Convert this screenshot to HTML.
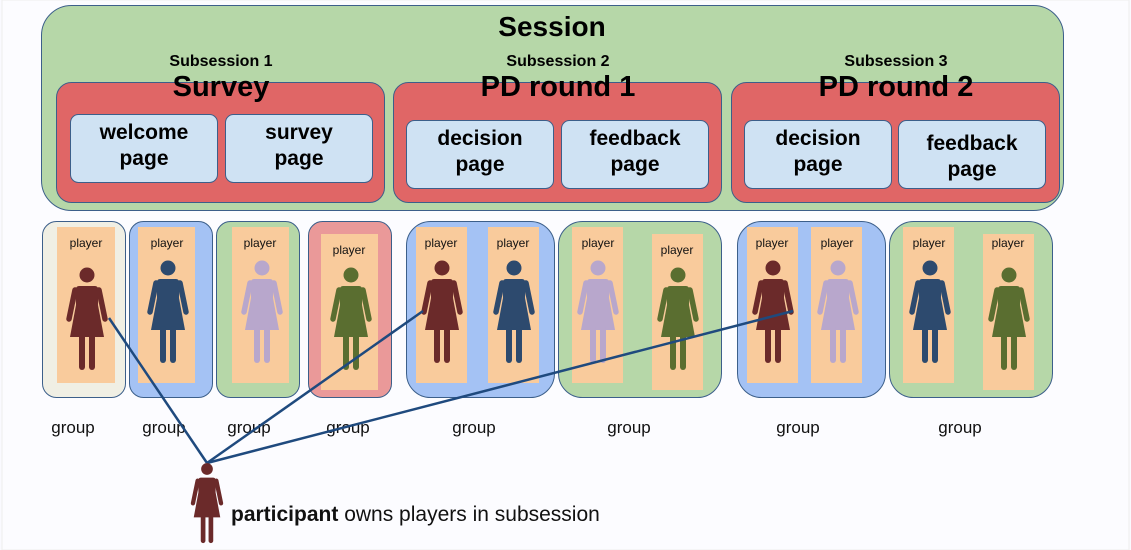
<!DOCTYPE html>
<html><head><meta charset="utf-8"><style>
html,body{margin:0;padding:0;background:#fafaff;}
svg{display:block;font-family:"Liberation Sans",sans-serif;}
</style></head><body>
<svg width="1131" height="550" viewBox="0 0 1131 550">
<defs>
<g id="w">
<circle cx="0" cy="0" r="7.5"/>
<path d="M-8,11 L8,11 Q11,11 11.5,15 L11,30 L17,62 L-17,62 L-11,30 L-11.5,15 Q-11,11 -8,11 Z"/>
<path d="M-12,15 L-18,44 M12,15 L18,44" stroke-width="5.5" stroke-linecap="round" fill="none"/>
<rect x="-8" y="58" width="6" height="37" rx="3"/>
<rect x="2" y="58" width="6" height="37" rx="3"/>
</g>
</defs>
<rect x="0" y="0" width="1131" height="550" fill="#fafaff"/>
<rect x="2" y="0" width="1127" height="550" fill="#fcfcff" stroke="#eee" stroke-width="1"/>
<rect x="41.5" y="5.5" width="1022" height="205" rx="30" fill="#b6d7a8" stroke="#3c5f8a"/>
<text x="552" y="36" font-size="28" font-weight="bold" text-anchor="middle">Session</text>
<g fill="#e06666" stroke="#3c5f8a">
<rect x="56.5" y="82.5" width="328" height="120" rx="15"/>
<rect x="393.5" y="82.5" width="328" height="120" rx="15"/>
<rect x="731.5" y="82.5" width="328" height="120" rx="15"/>
</g>
<g font-size="16" font-weight="bold" text-anchor="middle">
<text x="221" y="66">Subsession 1</text>
<text x="558" y="66">Subsession 2</text>
<text x="896" y="66">Subsession 3</text>
</g>
<g font-size="29" font-weight="bold" text-anchor="middle">
<text x="221" y="96">Survey</text>
<text x="558" y="96">PD round 1</text>
<text x="896" y="96">PD round 2</text>
</g>
<g fill="#cfe2f3" stroke="#3c5f8a">
<rect x="70.5" y="114.5" width="147" height="68" rx="8"/>
<rect x="225.5" y="114.5" width="147" height="68" rx="8"/>
<rect x="406.5" y="120.5" width="147" height="68" rx="8"/>
<rect x="561.5" y="120.5" width="147" height="68" rx="8"/>
<rect x="744.5" y="120.5" width="147" height="68" rx="8"/>
<rect x="898.5" y="120.5" width="147" height="68" rx="8"/>
</g>
<g font-size="21" font-weight="bold" text-anchor="middle">
<text x="144" y="139">welcome</text><text x="144" y="165">page</text>
<text x="299" y="139">survey</text><text x="299" y="165">page</text>
<text x="480" y="145">decision</text><text x="480" y="171">page</text>
<text x="635" y="145">feedback</text><text x="635" y="171">page</text>
<text x="818" y="145">decision</text><text x="818" y="171">page</text>
<text x="972" y="150">feedback</text><text x="972" y="176">page</text>
</g>
<g stroke="#3c5f8a">
<rect x="42.5" y="221.5" width="83" height="176" rx="14" fill="#f0efe4"/>
<rect x="129.5" y="221.5" width="83" height="176" rx="14" fill="#a4c2f4"/>
<rect x="216.5" y="221.5" width="83" height="176" rx="14" fill="#b6d7a8"/>
<rect x="308.5" y="221.5" width="83" height="176" rx="14" fill="#ea9999"/>
<rect x="406.5" y="221.5" width="148" height="176" rx="24" fill="#a4c2f4"/>
<rect x="558.5" y="221.5" width="163" height="176" rx="24" fill="#b6d7a8"/>
<rect x="737.5" y="221.5" width="148" height="176" rx="24" fill="#a4c2f4"/>
<rect x="889.5" y="221.5" width="163" height="176" rx="24" fill="#b6d7a8"/>
</g>
<g fill="#f9cb9c">
<rect x="57" y="227" width="58" height="156"/>
<rect x="138" y="227" width="57" height="156"/>
<rect x="232" y="227" width="57" height="156"/>
<rect x="321" y="234" width="57" height="156"/>
<rect x="416" y="227" width="51" height="156"/>
<rect x="488" y="227" width="51" height="156"/>
<rect x="572" y="227" width="51" height="156"/>
<rect x="652" y="234" width="51" height="156"/>
<rect x="747" y="227" width="51" height="156"/>
<rect x="811" y="227" width="51" height="156"/>
<rect x="903" y="227" width="51" height="156"/>
<rect x="983" y="234" width="51" height="156"/>
</g>
<g font-size="12" text-anchor="middle" fill="#111">
<text x="86" y="247">player</text>
<text x="167" y="247">player</text>
<text x="260" y="247">player</text>
<text x="349" y="254">player</text>
<text x="441" y="247">player</text>
<text x="513" y="247">player</text>
<text x="598" y="247">player</text>
<text x="677" y="254">player</text>
<text x="772" y="247">player</text>
<text x="837" y="247">player</text>
<text x="929" y="247">player</text>
<text x="1008" y="247">player</text>
</g>
<use href="#w" x="87" y="275" fill="#6b2a2a" stroke="#6b2a2a" stroke-width="0"/>
<use href="#w" x="168" y="268" fill="#2d4a6e" stroke="#2d4a6e" stroke-width="0"/>
<use href="#w" x="262" y="268" fill="#b8a7cc" stroke="#b8a7cc" stroke-width="0"/>
<use href="#w" x="351" y="275" fill="#5a6e30" stroke="#5a6e30" stroke-width="0"/>
<use href="#w" x="442" y="268" fill="#6b2a2a" stroke="#6b2a2a" stroke-width="0"/>
<use href="#w" x="514" y="268" fill="#2d4a6e" stroke="#2d4a6e" stroke-width="0"/>
<use href="#w" x="598" y="268" fill="#b8a7cc" stroke="#b8a7cc" stroke-width="0"/>
<use href="#w" x="678" y="275" fill="#5a6e30" stroke="#5a6e30" stroke-width="0"/>
<use href="#w" x="773" y="268" fill="#6b2a2a" stroke="#6b2a2a" stroke-width="0"/>
<use href="#w" x="838" y="268" fill="#b8a7cc" stroke="#b8a7cc" stroke-width="0"/>
<use href="#w" x="930" y="268" fill="#2d4a6e" stroke="#2d4a6e" stroke-width="0"/>
<use href="#w" x="1009" y="275" fill="#5a6e30" stroke="#5a6e30" stroke-width="0"/>
<g font-size="17" text-anchor="middle" fill="#111">
<text x="73" y="433">group</text>
<text x="164" y="433">group</text>
<text x="249" y="433">group</text>
<text x="348" y="433">group</text>
<text x="474" y="433">group</text>
<text x="629" y="433">group</text>
<text x="798" y="433">group</text>
<text x="960" y="433">group</text>
</g>
<g stroke="#1f4a7e" stroke-width="2.5" fill="none">
<line x1="207" y1="463" x2="109" y2="318"/>
<line x1="207" y1="463" x2="423" y2="311"/>
<line x1="207" y1="463" x2="793" y2="311"/>
</g>
<use href="#w" x="207" y="469" fill="#6b2a2a" stroke="#6b2a2a" stroke-width="0" transform="translate(207 469) scale(0.78) translate(-207 -469)"/>
<text x="231" y="521" font-size="21" fill="#111"><tspan font-weight="bold">participant</tspan> owns players in subsession</text>
</svg>
</body></html>
